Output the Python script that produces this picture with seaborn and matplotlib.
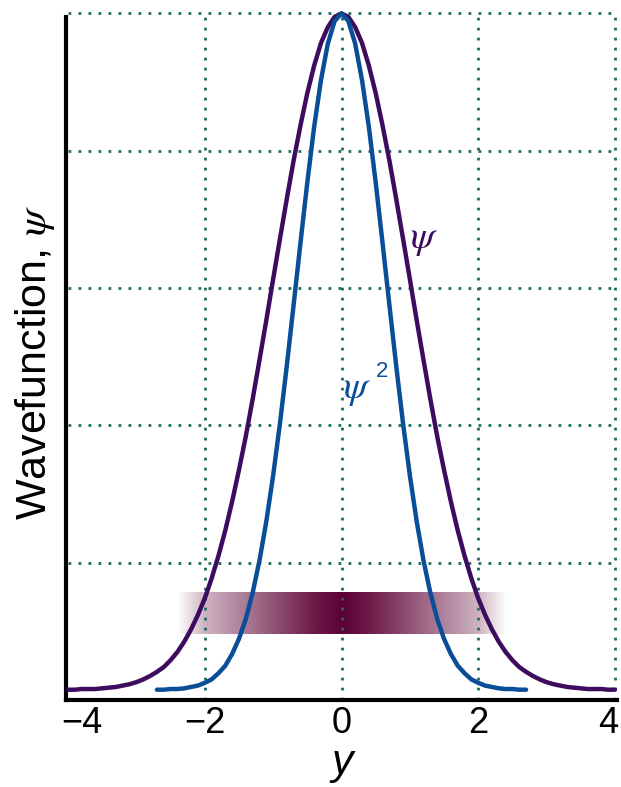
import numpy as np
import pandas as pd
import matplotlib
matplotlib.use("Agg")
import matplotlib.pyplot as plt
import matplotlib.transforms as mtransforms
import seaborn as sns
from matplotlib.colors import to_rgb

# ---- data ----
# psi sampled every 0.1 from -4 to 4
x_psi = [round(-4.0 + 0.1 * i, 1) for i in range(81)]
psi = [0.015, 0.015, 0.016, 0.016, 0.016, 0.017, 0.018, 0.019, 0.021, 0.023,
       0.026, 0.030, 0.035, 0.041, 0.048, 0.058, 0.070, 0.085, 0.103, 0.124,
       0.148, 0.177, 0.210, 0.247, 0.289, 0.335, 0.384, 0.438, 0.495, 0.553,
       0.613, 0.672, 0.730, 0.786, 0.837, 0.884, 0.924, 0.957, 0.980, 0.995,
       1.000,
       0.995, 0.980, 0.957, 0.924, 0.884, 0.837, 0.786, 0.730, 0.672, 0.613,
       0.553, 0.495, 0.438, 0.384, 0.335, 0.289, 0.247, 0.210, 0.177, 0.148,
       0.124, 0.103, 0.085, 0.070, 0.058, 0.048, 0.041, 0.035, 0.030, 0.026,
       0.023, 0.021, 0.019, 0.018, 0.017, 0.016, 0.016, 0.016, 0.015, 0.015]

# psi^2 sampled every 0.1 from -2.7 to 2.7
x_psi2 = [round(-2.7 + 0.1 * i, 1) for i in range(55)]
psi2 = [0.015, 0.015, 0.016, 0.016, 0.017, 0.019, 0.021, 0.025, 0.030, 0.039,
        0.050, 0.067, 0.089, 0.118, 0.156, 0.203, 0.260, 0.327, 0.403, 0.487,
        0.576, 0.666, 0.754, 0.835, 0.903, 0.956, 0.989, 1.000,
        0.989, 0.956, 0.903, 0.835, 0.754, 0.666, 0.576, 0.487, 0.403, 0.327,
        0.260, 0.203, 0.156, 0.118, 0.089, 0.067, 0.050, 0.039, 0.030, 0.025,
        0.021, 0.019, 0.017, 0.016, 0.016, 0.015, 0.015]

# shading intensity of the probability band, read at x = -2.4 .. 2.4 step 0.4
band_x = [-2.4, -2.0, -1.6, -1.2, -0.8, -0.4, 0.0, 0.4, 0.8, 1.2, 1.6, 2.0, 2.4]
band_shade = [0.0, 0.3, 0.45, 0.6, 0.75, 0.9, 1.0, 0.9, 0.75, 0.6, 0.45, 0.3, 0.0]
band_y = (0.096, 0.157)

xticks = [-4, -2, 0, 2, 4]
xtick_labels = ["\u22124", "\u22122", "0", "2", "4"]
vgrid = [-2, 0, 2, 4]
hgrid = [0.2, 0.4, 0.6, 0.8, 1.0]

# ---- style ----
sns.set_style("white")
plt.rcParams["font.family"] = ["Liberation Sans", "DejaVu Sans"]
plt.rcParams["mathtext.fontset"] = "stix"

C_PSI = "#3d0c5f"
C_PSI2 = "#0a4e98"
C_GRID = "#1d6b5c"
C_BAND = "#5c0033"

fig = plt.figure(figsize=(6.21, 7.87), dpi=100)
ax = fig.add_axes([66 / 621, 87 / 787, 551 / 621, 690 / 787])

df1 = pd.DataFrame({"x": x_psi, "v": psi})
df2 = pd.DataFrame({"x": x_psi2, "v": psi2})

# probability band
rgb = np.array(to_rgb(C_BAND))
img = np.zeros((1, len(band_shade), 4))
img[0, :, :3] = rgb
img[0, :, 3] = band_shade
step = band_x[1] - band_x[0]
ax.imshow(img, extent=(band_x[0] - step / 2, band_x[-1] + step / 2, band_y[0], band_y[1]),
          aspect="auto", interpolation="bilinear", zorder=1, origin="lower")

# grid
for gx in vgrid:
    ax.plot([gx, gx], [0, 1.0], color=C_GRID, lw=2.0, ls=(0, (1, 2.6)), zorder=2, clip_on=False)
for gy in hgrid:
    ax.plot([-4.0, 4.03], [gy, gy], color=C_GRID, lw=2.0, ls=(0, (1, 2.6)), zorder=2, clip_on=False)

sns.lineplot(data=df1, x="x", y="v", ax=ax, color=C_PSI, lw=3.2, zorder=4, sort=False)
sns.lineplot(data=df2, x="x", y="v", ax=ax, color=C_PSI2, lw=3.2, zorder=5, sort=False)

ax.set_xlim(-4.03, 4.03)
ax.set_ylim(0, 1.005)

for s in ["top", "right"]:
    ax.spines[s].set_visible(False)
ax.spines["left"].set_linewidth(3.0)
ax.spines["bottom"].set_linewidth(3.0)
ax.spines["left"].set_color("black")
ax.spines["bottom"].set_color("black")
ax.spines["left"].set_bounds(0, 0.995)

ax.set_xticks(xticks)
ax.set_xticklabels(xtick_labels, fontsize=26)
ax.set_yticks([])
ax.tick_params(axis="x", length=0, pad=4, labelcolor="black")
ax.set_xlabel("")
ax.set_ylabel("")

# nudge the outermost tick labels inward, as in the reference
labels = ax.get_xticklabels()
shifts = {0: 14, 4: -7}
for i, dx in shifts.items():
    off = mtransforms.ScaledTranslation(dx / 100, 0, fig.dpi_scale_trans)
    labels[i].set_transform(labels[i].get_transform() + off)

# labels
fig.text(35 / 621, 1 - 362 / 787, "Wavefunction, $\\psi$", rotation=90,
         ha="center", va="center", fontsize=31, color="black")
fig.text(342 / 621, 1 - 763 / 787, "y", ha="center", va="center", fontsize=31,
         style="italic", color="black")

ax.text(1.21, 0.67, "$\\psi$", color=C_PSI, fontsize=28, ha="center", va="center")
ax.text(0.22, 0.452, "$\\psi$", color=C_PSI2, fontsize=28, ha="center", va="center")
ax.text(0.60, 0.478, "2", color=C_PSI2, fontsize=16, ha="center", va="center")

fig.savefig("out.png", dpi=100)
